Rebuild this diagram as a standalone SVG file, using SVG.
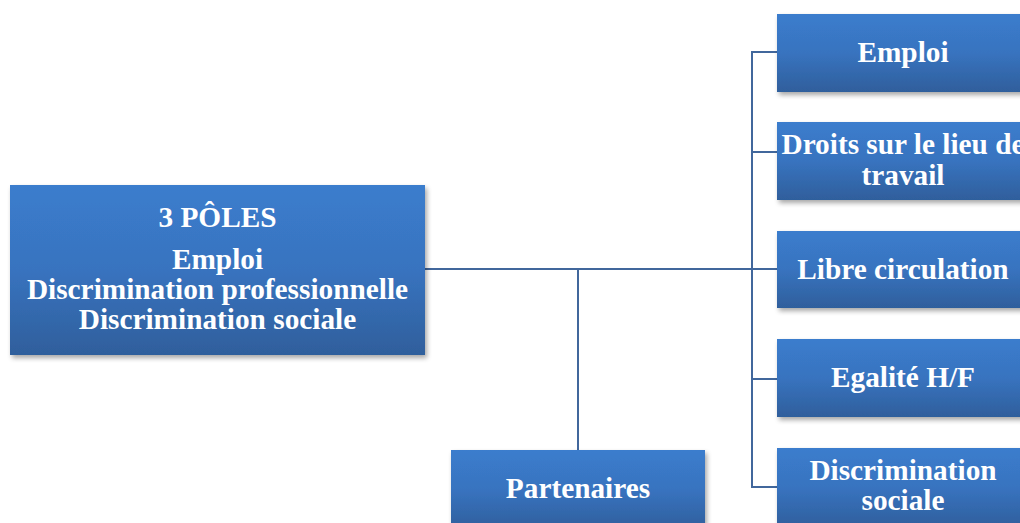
<svg xmlns="http://www.w3.org/2000/svg" width="1020" height="523" viewBox="0 0 1020 523">
<style>
.box{fill:url(#g);filter:url(#sh)}
.t{font-family:"Liberation Serif","Times New Roman",serif;font-weight:bold;font-size:29.3px;fill:#ffffff;text-anchor:middle}
.c{fill:none;stroke:#41679c;stroke-width:2}
</style>
<defs>
<linearGradient id="g" x1="0" y1="0" x2="0" y2="1">
<stop offset="0" stop-color="#3b7dcd"/>
<stop offset="0.5" stop-color="#3873bf"/>
<stop offset="1" stop-color="#2f5f9c"/>
</linearGradient>
<filter id="sh" x="-10%" y="-10%" width="120%" height="130%">
<feGaussianBlur in="SourceAlpha" stdDeviation="2.5"/>
<feOffset dx="2" dy="3" result="b"/>
<feComponentTransfer><feFuncA type="linear" slope="0.35"/></feComponentTransfer>
<feMerge><feMergeNode/><feMergeNode in="SourceGraphic"/></feMerge>
</filter>
</defs>
<rect width="1020" height="523" fill="#ffffff"/>
<g id="connectors">
<path class="c" d="M425 269 H778"/>
<path class="c" d="M578 269 V450"/>
<path class="c" d="M778 52 H752 V487 H778"/>
<path class="c" d="M752 152 H778"/>
<path class="c" d="M752 379 H778"/>
</g>
<g id="main">
<rect class="box" x="10" y="185" width="415" height="170"/>
<text class="t" x="217.5" y="227">3 PÔLES</text>
<text class="t" x="217.5" y="269">Emploi</text>
<text class="t" x="217.5" y="299">Discrimination professionnelle</text>
<text class="t" x="217.5" y="329">Discrimination sociale</text>
</g>
<g id="partenaires">
<rect class="box" x="451" y="450" width="254" height="80"/>
<text class="t" x="578" y="498">Partenaires</text>
</g>
<g id="emploi">
<rect class="box" x="777" y="14" width="252" height="78"/>
<text class="t" x="903" y="62">Emploi</text>
</g>
<g id="droits">
<rect class="box" x="777" y="122" width="252" height="78"/>
<text class="t" x="903" y="154">Droits sur le lieu de</text>
<text class="t" x="903" y="185">travail</text>
</g>
<g id="libre">
<rect class="box" x="777" y="231" width="252" height="77"/>
<text class="t" x="903" y="279">Libre circulation</text>
</g>
<g id="egalite">
<rect class="box" x="777" y="339" width="252" height="78"/>
<text class="t" x="903" y="387">Egalité H/F</text>
</g>
<g id="discrimination">
<rect class="box" x="777" y="448" width="252" height="80"/>
<text class="t" x="903" y="480">Discrimination</text>
<text class="t" x="903" y="510">sociale</text>
</g>
</svg>
